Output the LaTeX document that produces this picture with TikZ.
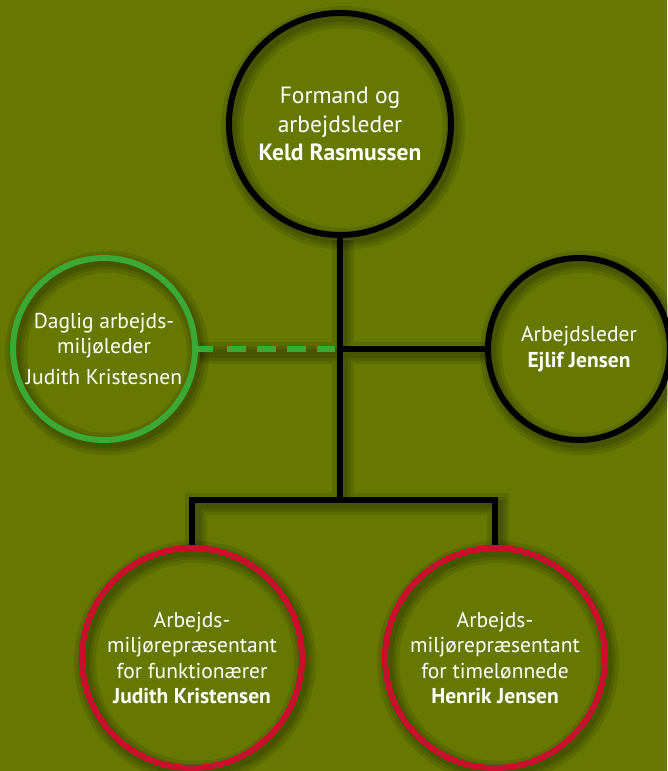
\documentclass[tikz,border=0pt]{standalone}
\usepackage{fontspec}
\setmainfont{PT Sans}
\definecolor{bg}{HTML}{667800}
\definecolor{grn}{HTML}{3AAA35}
\definecolor{redring}{HTML}{C8102E}
\begin{document}
\begin{tikzpicture}[x=1pt,y=-1pt,
  person/.style={circle, draw, line width=6pt, inner sep=0pt, text=white,
    align=center, font=\fontsize{21.5}{25.5}\selectfont},
  conn/.style={line width=6pt, draw=black, line join=miter},
  shade1/.style={draw=black, opacity=0.10, line width=22pt},
  shade2/.style={draw=black, opacity=0.10, line width=15pt},
  shade3/.style={draw=black, opacity=0.12, line width=9pt}]
\fill[bg] (0,0) rectangle (667,771);
\useasboundingbox (0,0) rectangle (667,771);
% centres
\coordinate (ctop) at (340,124);
\coordinate (cleft) at (104,349);
\coordinate (cright) at (579,349);
\coordinate (cbl) at (192,658);
\coordinate (cbr) at (495,658);
\coordinate (jmid) at (340,349);
\coordinate (jbot) at (340,500);
% soft shadows
\foreach \s in {shade1,shade2,shade3}{
  \draw[\s] ([shift={(3,4)}]ctop) circle[radius=111pt];
  \draw[\s] ([shift={(3,4)}]cleft) circle[radius=91pt];
  \draw[\s] ([shift={(3,4)}]cright) circle[radius=91pt];
  \draw[\s] ([shift={(3,4)}]cbl) circle[radius=110pt];
  \draw[\s] ([shift={(3,4)}]cbr) circle[radius=110pt];
  \draw[\s] (343,240) -- (343,504) (343,353) -- (485,353)
            (196,548) -- (196,504) -- (498,504) -- (498,548)
            (200,353) -- (340,353);
}
% nodes
\node[person, minimum size=222pt, font=\fontsize{23.5}{28.5}\selectfont] (top) at (ctop)
  {Formand og\\arbejdsleder\\\textbf{Keld Rasmussen}};
\node[person, minimum size=182pt, draw=grn] (left) at (cleft)
  {Daglig arbejds-\\miljøleder\\[5pt]Judith Kristesnen};
\node[person, minimum size=182pt] (right) at (cright)
  {Arbejdsleder\\\textbf{Ejlif Jensen}};
\node[person, minimum size=220pt, draw=redring] (bl) at (cbl)
  {Arbejds-\\miljørepræsentant\\for funktionærer\\\textbf{Judith Kristensen}};
\node[person, minimum size=220pt, draw=redring] (br) at (cbr)
  {Arbejds-\\miljørepræsentant\\for timelønnede\\\textbf{Henrik Jensen}};
% connectors
\draw[grn, line width=5.5pt, dash pattern=on 15pt off 14pt on 19pt off 11pt on 19pt off 11pt on 19pt off 11pt on 18pt off 11pt] (left.east) -- (jmid);
\draw[conn] (top.south) -- (jbot);
\draw[conn] (jmid) -- (right.west);
\draw[conn] (bl.north) |- (jbot) -| (br.north);
\end{tikzpicture}
\end{document}
